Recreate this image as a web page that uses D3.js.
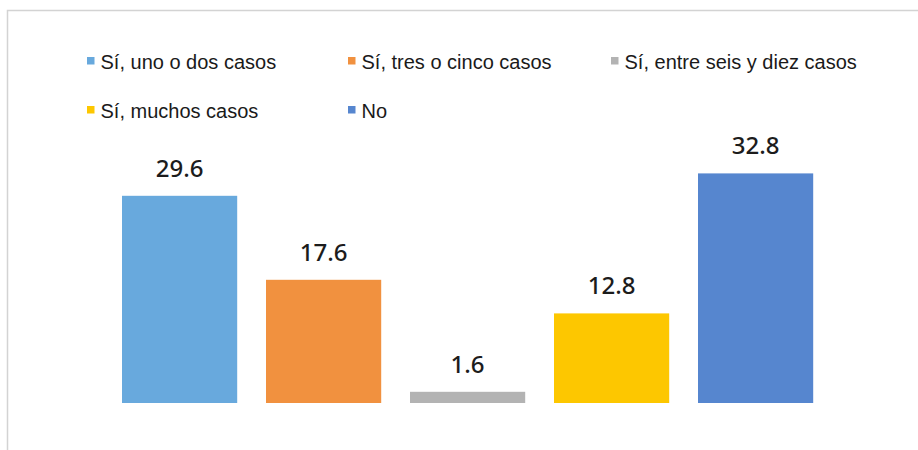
<!DOCTYPE html>
<html>
<head>
<meta charset="utf-8">
<script src="https://cdn.jsdelivr.net/npm/d3@7"></script>
<style>
  html, body { margin: 0; padding: 0; background: #fff; }
  svg { display: block; }
</style>
</head>
<body>
<svg id="chart" width="918" height="450"></svg>
<script>
const categories = ["Sí, uno o dos casos", "Sí, tres o cinco casos", "Sí, entre seis y diez casos", "Sí, muchos casos", "No"];
const values = [29.6, 17.6, 1.6, 12.8, 32.8];
const colors = ["#68a9dd", "#f1913f", "#b3b3b3", "#fdc700", "#5686cf"];
const valueLabels = ["29.6", "17.6", "1.6", "12.8", "32.8"];

const svg = d3.select("#chart");

// chart area border (top and left visible, rest cropped)
svg.append("path")
  .attr("d", "M7.5,460 V10.5 H930")
  .attr("fill", "none")
  .attr("stroke", "#d3d3d3")
  .attr("stroke-width", 1.5);

const x = d3.scaleBand()
  .domain(categories)
  .range([107.6, 827.6])
  .paddingInner(0.2)
  .paddingOuter(0.1);

const y = d3.scaleLinear()
  .domain([0, 35])
  .range([403, 158]);

const data = categories.map((c, i) => ({ c, v: values[i], col: colors[i], lab: valueLabels[i] }));

svg.append("g").selectAll("rect")
  .data(data)
  .join("rect")
  .attr("x", d => x(d.c))
  .attr("width", x.bandwidth())
  .attr("y", d => y(d.v))
  .attr("height", d => y(0) - y(d.v))
  .attr("fill", d => d.col);

svg.append("g").selectAll("text")
  .data(data)
  .join("text")
  .attr("x", d => x(d.c) + x.bandwidth() / 2)
  .attr("y", d => y(d.v) - 19)
  .attr("text-anchor", "middle")
  .attr("font-family", "'Noto Sans', 'Open Sans', sans-serif")
  .attr("font-size", 24)
  .attr("font-weight", 500)
  .attr("fill", "#1c1c1c")
  .text(d => d.lab);

// legend: 3 per row
const legendCols = [87, 348, 611];
const legendRows = [69, 118];
const lg = svg.append("g").selectAll("g")
  .data(data)
  .join("g")
  .attr("transform", (d, i) => `translate(${legendCols[i % 3]},${legendRows[Math.floor(i / 3)]})`);

lg.append("rect")
  .attr("x", 0)
  .attr("y", -12)
  .attr("width", 7.5)
  .attr("height", 7.5)
  .attr("fill", d => d.col);

lg.append("text")
  .attr("x", 13.5)
  .attr("y", 0)
  .attr("font-family", "'Liberation Sans', Arial, sans-serif")
  .attr("font-size", 20)
  .attr("fill", "#1a1a1a")
  .text(d => d.c);
</script>
</body>
</html>
